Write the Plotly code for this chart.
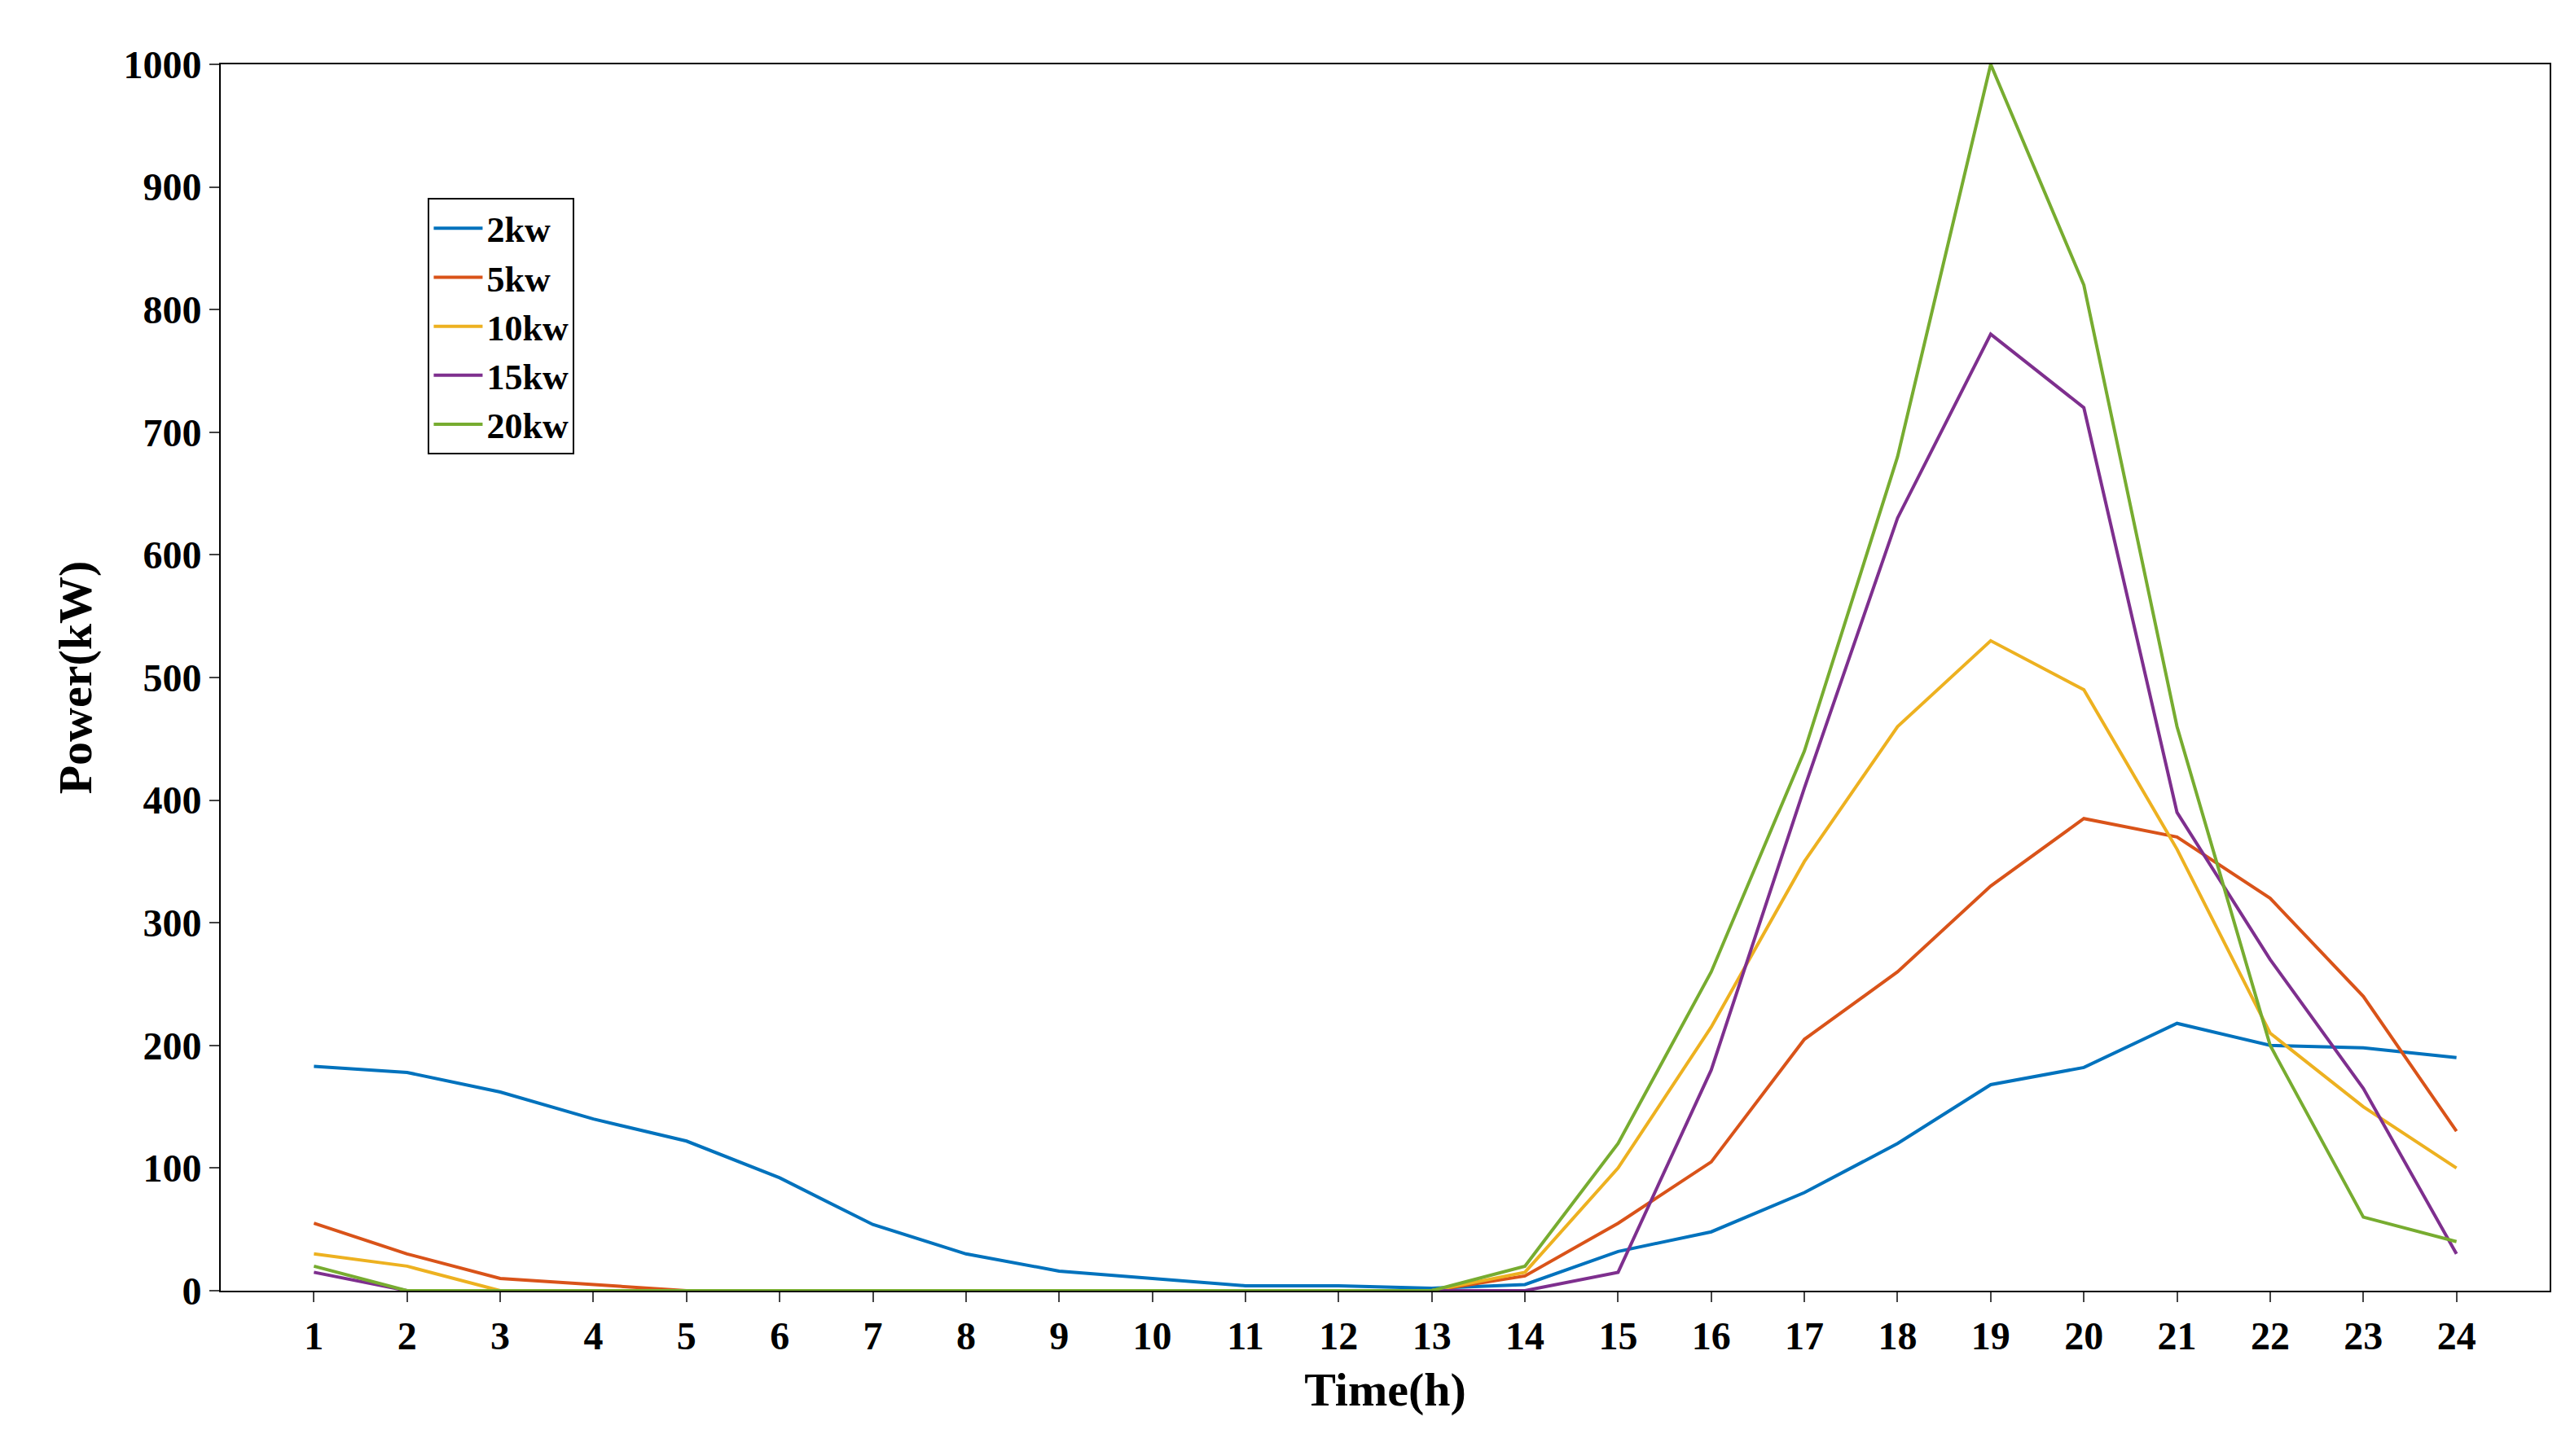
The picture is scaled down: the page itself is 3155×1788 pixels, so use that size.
import plotly.graph_objects as go

hours = list(range(1, 25))
p2 = [183, 178, 162, 140, 122, 92, 54, 30, 16, 10, 4, 4, 2, 5, 32, 48, 80, 120, 168, 182, 218, 200, 198, 190]
p5 = [55, 30, 10, 5, 0, 0, 0, 0, 0, 0, 0, 0, 0, 12, 55, 105, 205, 260, 330, 385, 370, 320, 240, 130]
p10 = [30, 20, 0, 0, 0, 0, 0, 0, 0, 0, 0, 0, 0, 15, 100, 215, 350, 460, 530, 490, 360, 210, 150, 100]
p15 = [15, 0, 0, 0, 0, 0, 0, 0, 0, 0, 0, 0, 0, 0, 15, 180, 410, 630, 780, 720, 390, 270, 165, 30]
p20 = [20, 0, 0, 0, 0, 0, 0, 0, 0, 0, 0, 0, 0, 20, 120, 260, 440, 680, 1000, 820, 460, 200, 60, 40]

series = [("2kw", p2, "#0072BD"), ("5kw", p5, "#D95319"), ("10kw", p10, "#EDB120"),
          ("15kw", p15, "#7E2F8E"), ("20kw", p20, "#77AC30")]

fig = go.Figure()
for name, vals, col in series:
    fig.add_trace(go.Scatter(x=hours, y=vals, name=name, mode="lines",
                             line=dict(color=col, width=4)))

bold = dict(family="Liberation Serif", color="black", weight="bold")
axis = dict(showline=True, mirror=True, linecolor="black", linewidth=2, ticks="outside",
            tickwidth=2, ticklen=12, showgrid=False, zeroline=False,
            tickfont=dict(bold, size=48))
fig.update_layout(
    width=3155, height=1788, plot_bgcolor="white", paper_bgcolor="white",
    font=dict(bold, size=48), margin=dict(l=263, r=33, t=71, b=211),
    xaxis=dict(axis, range=[0, 25], tickvals=hours,
               title=dict(text="Time(h)", font=dict(bold, size=58), standoff=20)),
    yaxis=dict(axis, range=[0, 1000], dtick=100,
               title=dict(text="Power(kW)", font=dict(bold, size=58), standoff=20)),
    legend=dict(x=0.089, y=0.891, xanchor="left", yanchor="top", bordercolor="black",
                borderwidth=2, bgcolor="white", font=dict(bold, size=44),
                tracegroupgap=0, itemwidth=60),
)
fig.write_html("out.html")
